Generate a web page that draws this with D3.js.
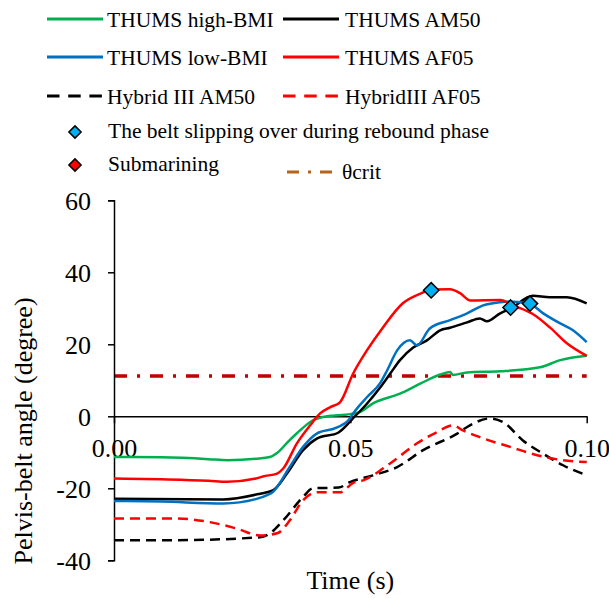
<!DOCTYPE html>
<html>
<head>
<meta charset="utf-8">
<script src="https://cdn.jsdelivr.net/npm/d3@7"></script>
<style>
  body { margin: 0; background: #fff; }
  svg { display: block; }
  svg text { font-family: "Liberation Serif", "DejaVu Serif", serif; }
</style>
</head>
<body>
<div id="chart"></div>
<script>
// series values: [time (s), angle (degree)]
var thumsHighBmi = [[0,-11.3],[0.01,-11.4],[0.02,-11.9],[0.024,-12.2],[0.03,-11.8],[0.033,-11.3],[0.0345,-10.2],[0.037,-6.8],[0.0387,-4.7],[0.0421,-1.1],[0.045,0],[0.05,0.6],[0.052,1.2],[0.0548,3.6],[0.0605,6.3],[0.065,9.2],[0.069,11.6],[0.0711,12.3],[0.0717,11.5],[0.0747,12.2],[0.0817,12.5],[0.0901,13.6],[0.0944,15.6],[0.1,16.8]];
var thumsAm50 = [[0,-22.9],[0.0231,-23.1],[0.0309,-21.5],[0.0336,-20.6],[0.0366,-15.9],[0.04,-9.4],[0.0429,-6.2],[0.0475,-4.5],[0.0506,-0.5],[0.0535,3.5],[0.0563,8],[0.0584,11.8],[0.0605,15.6],[0.0633,19.1],[0.0662,21.1],[0.069,23.9],[0.0711,24.6],[0.0747,26.1],[0.0774,27.2],[0.0789,26.4],[0.0817,28.6],[0.084,30.0],[0.0886,33.5],[0.0922,33.1],[0.0958,33.1],[0.1,31.4]];
var thumsLowBmi = [[0,-23.5],[0.01,-23.7],[0.0231,-24.2],[0.03,-23.0],[0.0324,-21.9],[0.0336,-21],[0.0372,-14],[0.04,-8.5],[0.0429,-4.8],[0.0472,-3.1],[0.0499,-0.6],[0.0506,0.8],[0.0535,5.3],[0.0563,9.2],[0.0578,12.8],[0.0599,18.3],[0.0626,21.1],[0.0641,19.7],[0.0668,24.4],[0.0711,26.7],[0.0747,28.6],[0.0781,30.8],[0.0817,31.7],[0.0838,31.9],[0.088,31.2],[0.0908,28.6],[0.0944,25.8],[0.0971,23.9],[0.1,20.6]];
var thumsAf05 = [[0,-17.3],[0.01,-17.5],[0.02,-17.9],[0.0239,-18.2],[0.03,-17.3],[0.0315,-16.7],[0.0345,-15.9],[0.0358,-14.5],[0.0387,-7.5],[0.0415,-2.5],[0.0436,0.8],[0.0457,2.5],[0.0478,3.9],[0.0506,11.9],[0.0535,18.3],[0.0569,24.7],[0.0611,31.4],[0.0647,34.0],[0.0671,35.2],[0.0711,35.3],[0.0732,34.2],[0.0753,32.2],[0.0817,32.3],[0.0844,30.8],[0.0886,28.4],[0.0922,24.7],[0.0958,20.3],[0.1,16.8]];
var hybridAm50 = [[0,-34.4],[0.0133,-34.4],[0.0309,-33.6],[0.033,-32.5],[0.0358,-28.9],[0.04,-22.4],[0.0421,-20],[0.0475,-19.8],[0.0499,-18.3],[0.0548,-16.4],[0.0599,-14.1],[0.0654,-9.4],[0.0726,-4.8],[0.0753,-2.5],[0.0795,-0.6],[0.0823,-1.6],[0.0865,-6.7],[0.0908,-10.4],[0.095,-13.6],[0.1,-16.4]];
var hybridAf05 = [[0,-28.4],[0.0133,-28.4],[0.0203,-29.4],[0.026,-31.2],[0.0309,-33.1],[0.0345,-32.5],[0.0372,-28.9],[0.04,-23.3],[0.0429,-21.1],[0.0478,-21.1],[0.0506,-18.5],[0.0527,-17.8],[0.0584,-13.1],[0.0641,-7.5],[0.0683,-4.4],[0.0717,-2.5],[0.0738,-3.9],[0.0774,-5.8],[0.0838,-8.5],[0.0895,-10.8],[0.095,-12.2],[0.1,-12.7]];
var slipPoints = [[0.0671,35.0],[0.0839,30.2],[0.088,31.3]];
var thetaCrit = 11.2;

var yTicks = [60, 40, 20, 0, -20, -40];
var xTicks = [0, 0.05, 0.10];
var xTickLabels = ["0.00", "0.05", "0.10"];

var SERIF = "Liberation Serif, DejaVu Serif, serif";
var W = 609, H = 599;
var svg = d3.select("#chart").append("svg")
    .attr("width", W)
    .attr("height", H)
    .attr("font-family", SERIF);

var x = d3.scaleLinear().domain([0, 0.1]).range([114, 586.7]);
var y = d3.scaleLinear().domain([-40, 60]).range([560.3, 200.3]);

var series = [
  { data: thumsHighBmi, color: "#00B050", dash: null },
  { data: thumsAm50, color: "#000000", dash: null },
  { data: thumsLowBmi, color: "#0070C0", dash: null },
  { data: thumsAf05, color: "#FF0000", dash: null },
  { data: hybridAm50, color: "#000000", dash: "10,6" },
  { data: hybridAf05, color: "#FF0000", dash: "10,6" }
];

// theta crit line
svg.append("line")
  .attr("x1", x(0)).attr("x2", x(0.1))
  .attr("y1", y(thetaCrit)).attr("y2", y(thetaCrit))
  .attr("stroke", "#C00000")
  .attr("stroke-width", 3.5)
  .attr("stroke-dasharray", "13,10,3,10");

// y axis
var yAxis = d3.axisLeft(y).tickValues(yTicks).tickSize(6).tickPadding(4)
  .tickFormat(d3.format("d"));
var gy = svg.append("g").attr("transform", "translate(" + x(0) + ",0)").call(yAxis)
  .attr("font-family", SERIF);
gy.select(".domain").attr("stroke", "#000").attr("stroke-width", 1.5);
gy.selectAll(".tick line").attr("stroke", "#000").attr("stroke-width", 1.5);
gy.selectAll(".tick text")
  .attr("font-size", 26)
  .attr("fill", "#000")
  .attr("x", -23)
  .attr("dy", "0.34em")
  .text(function (d) { return d; });

// x axis at y = 0
var xAxis = d3.axisBottom(x).tickValues(xTicks).tickSize(7).tickSizeOuter(0)
  .tickFormat(function (d, i) { return xTickLabels[i]; });
var gx = svg.append("g").attr("transform", "translate(0," + y(0) + ")").call(xAxis)
  .attr("font-family", SERIF);
gx.select(".domain").attr("stroke", "#000").attr("stroke-width", 1.5);
gx.selectAll(".tick line").attr("stroke", "#000").attr("stroke-width", 1.5);
gx.selectAll(".tick text")
  .attr("font-size", 26)
  .attr("fill", "#000")
  .attr("y", 41)
  .attr("dy", 0);

// curves
var line = d3.line()
  .x(function (d) { return x(d[0]); })
  .y(function (d) { return y(d[1]); })
  .curve(d3.curveMonotoneX);

svg.selectAll("path.series")
  .data(series)
  .enter()
  .append("path")
    .attr("class", "series")
    .attr("d", function (s) { return line(s.data); })
    .attr("fill", "none")
    .attr("stroke", function (s) { return s.color; })
    .attr("stroke-width", 2.5)
    .attr("stroke-dasharray", function (s) { return s.dash; });

// slip markers
var diamond = d3.symbol().type(d3.symbolDiamond2).size(150);
svg.selectAll("path.slip")
  .data(slipPoints)
  .enter()
  .append("path")
    .attr("class", "slip")
    .attr("d", diamond)
    .attr("transform", function (d) { return "translate(" + x(d[0]) + "," + y(d[1]) + ")"; })
    .attr("fill", "#00B0F0")
    .attr("stroke", "#000")
    .attr("stroke-width", 1.5);

// axis titles
svg.append("text")
  .attr("x", x(0.05)).attr("y", 589)
  .attr("text-anchor", "middle")
  .attr("font-size", 26)
  .text("Time (s)");

svg.append("text")
  .attr("transform", "translate(32,431) rotate(-90)")
  .attr("text-anchor", "middle")
  .attr("font-size", 26)
  .text("Pelvis-belt angle (degree)");

// legend
var legendLines = [
  { label: "THUMS high-BMI", color: "#00B050", dash: null, lx: 47, tx: 107, cy: 19 },
  { label: "THUMS AM50", color: "#000000", dash: null, lx: 283, tx: 345, cy: 19 },
  { label: "THUMS low-BMI", color: "#0070C0", dash: null, lx: 47, tx: 107, cy: 57 },
  { label: "THUMS AF05", color: "#FF0000", dash: null, lx: 283, tx: 345, cy: 57 },
  { label: "Hybrid III AM50", color: "#000000", dash: "12.5,8.7", lx: 47, tx: 107, cy: 96 },
  { label: "HybridIII AF05", color: "#FF0000", dash: "12.5,8.7", lx: 283, tx: 345, cy: 96 }
];

var lg = svg.append("g").attr("font-size", 21.5).attr("font-family", SERIF);
legendLines.forEach(function (d) {
  lg.append("line")
    .attr("x1", d.lx).attr("x2", d.lx + 56)
    .attr("y1", d.cy).attr("y2", d.cy)
    .attr("stroke", d.color)
    .attr("stroke-width", 3)
    .attr("stroke-dasharray", d.dash);
  lg.append("text")
    .attr("x", d.tx).attr("y", d.cy + 8)
    .text(d.label);
});

var legendMarks = [
  { label: "The belt slipping over during rebound phase", color: "#00B0F0", cy: 132 },
  { label: "Submarining", color: "#FF0000", cy: 165 }
];
var smallDiamond = d3.symbol().type(d3.symbolDiamond2).size(95);
legendMarks.forEach(function (d) {
  lg.append("path")
    .attr("d", smallDiamond)
    .attr("transform", "translate(75," + d.cy + ")")
    .attr("fill", d.color)
    .attr("stroke", "#000")
    .attr("stroke-width", 1.5);
  lg.append("text")
    .attr("x", 108).attr("y", d.cy + 6)
    .text(d.label);
});

lg.append("line")
  .attr("x1", 287).attr("x2", 336)
  .attr("y1", 172).attr("y2", 172)
  .attr("stroke", "#B8621B")
  .attr("stroke-width", 3)
  .attr("stroke-dasharray", "12,9,3,9");
lg.append("text")
  .attr("x", 342).attr("y", 179)
  .text("\u03b8crit");
</script>
</body>
</html>
